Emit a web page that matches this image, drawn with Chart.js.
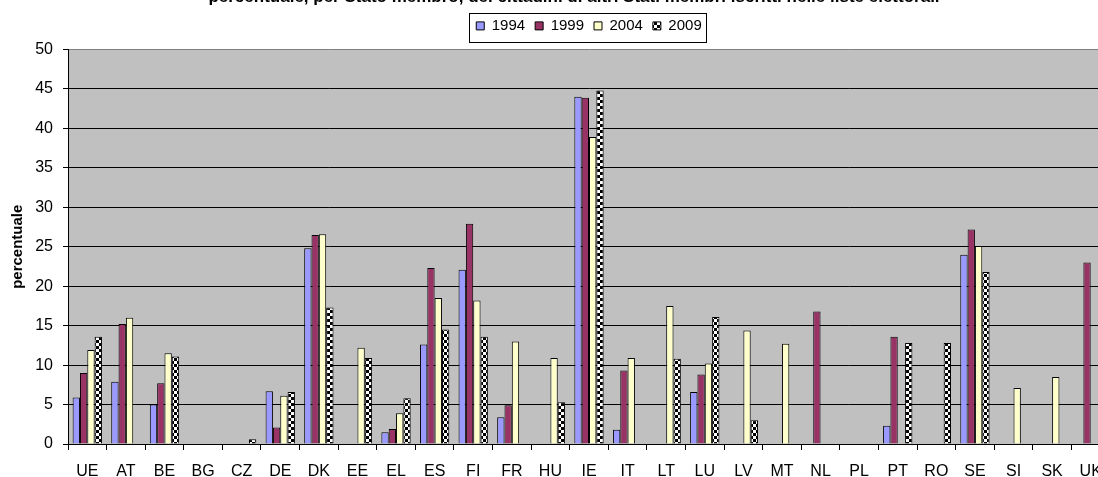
<!DOCTYPE html>
<html>
<head>
<meta charset="utf-8">
<script src="https://cdn.jsdelivr.net/npm/chart.js@4.4.0/dist/chart.umd.min.js"></script>
<style>
  html, body { margin: 0; padding: 0; background: #fff; overflow: hidden; width: 1098px; height: 477px; }
  #box { position: absolute; left: 0; top: -20px; width: 1148px; height: 497px; }
</style>
</head>
<body>
<div id="box"><canvas id="grafico" width="1148" height="497"></canvas></div>
<script>
// stati membri (asse x)
const paesi = ['UE','AT','BE','BG','CZ','DE','DK','EE','EL','ES','FI','FR','HU','IE','IT','LT','LU','LV','MT','NL','PL','PT','RO','SE','SI','SK','UK'];
const anni = ['1994', '1999', '2004', '2009'];

// percentuale per anno (null = nessun dato)
const v1994 = [5.9, 7.9, 5.0, null, null, 6.7, 24.8, null, 1.5, 12.6, 22.1, 3.4, null, 44.0, 1.8, null, 6.6, null, null, null, null, 2.3, null, 24.0, null, null, null];
const v1999 = [9.0, 15.2, 7.7, null, null, 2.1, 26.5, null, 1.9, 22.3, 27.9, 4.9, null, 43.9, 9.3, null, 8.8, null, null, 16.8, null, 13.6, null, 27.2, null, null, 23.0];
const v2004 = [11.9, 16.0, 11.5, null, null, 6.1, 26.6, 12.2, 3.9, 18.5, 18.2, 13.0, 10.9, 38.9, 10.9, 17.5, 10.2, 14.4, 12.7, null, null, null, null, 25.1, 7.1, 8.5, null];
const v2009 = [13.6, null, 11.1, null, 0.6, 6.6, 17.3, 10.9, 5.8, 14.5, 13.6, null, 5.3, 44.8, null, 10.8, 16.1, 3.0, null, null, null, 12.8, 12.8, 21.8, null, null, null];

const yMin = 0, yMax = 50, yPasso = 5;

const titolo = 'percentuale, per Stato membro, dei cittadini di altri Stati membri iscritti nelle liste elettorali';
const titoloY = 'percentuale';

// riempimento a scacchi per il 2009
function scacchiera() {
  const c = document.createElement('canvas');
  c.width = 6; c.height = 6;
  const g = c.getContext('2d');
  g.fillStyle = '#fff'; g.fillRect(0, 0, 6, 6);
  g.fillStyle = '#000'; g.fillRect(0, 0, 3, 3); g.fillRect(3, 3, 3, 3);
  return g.createPattern(c, 'repeat');
}

const sfondoArea = {
  id: 'sfondoArea',
  beforeDraw(chart) {
    const a = chart.chartArea, ctx = chart.ctx;
    ctx.save();
    ctx.fillStyle = '#c0c0c0';
    ctx.fillRect(a.left, a.top, a.right - a.left, a.bottom - a.top);
    ctx.restore();
  }
};

// cornice della legenda
const cornice = {
  id: 'cornice',
  afterDraw(chart) {
    const hb = chart.legend.legendHitBoxes;
    if (!hb || !hb.length) return;
    const x0 = Math.min(...hb.map(h => h.left)) - 7;
    const x1 = Math.max(...hb.map(h => h.left + h.width)) + 5;
    const mid = hb[0].top + hb[0].height / 2;
    const ctx = chart.ctx;
    ctx.save();
    ctx.strokeStyle = '#000';
    ctx.lineWidth = 1;
    ctx.strokeRect(Math.round(x0) + 0.5, Math.round(mid - 13) + 0.5, Math.round(x1 - x0), 29);
    ctx.restore();
  }
};

const serie = [v1994, v1999, v2004, v2009];
const colori = ['#9999ff', '#993366', '#ffffcc', scacchiera()];

const ctx = document.getElementById('grafico').getContext('2d');
new Chart(ctx, {
  type: 'bar',
  data: {
    labels: paesi,
    datasets: anni.map((anno, i) => ({
      label: anno,
      data: serie[i],
      backgroundColor: colori[i],
      borderColor: '#000',
      borderWidth: 1,
      categoryPercentage: 0.76,
      barPercentage: 1.0
    }))
  },
  options: {
    responsive: false,
    animation: false,
    layout: { padding: 0 },
    plugins: {
      title: {
        display: true,
        text: titolo,
        color: '#000',
        font: { family: 'Arial, "Liberation Sans"', size: 17, weight: 'bold' },
        padding: { top: 7.3, bottom: 0.7 }
      },
      subtitle: {
        display: true,
        text: '',
        weight: 500,
        fullSize: false,
        font: { size: 1 },
        padding: { top: 4.9, bottom: 0 }
      },
      legend: {
        position: 'top',
        fullSize: false,
        labels: {
          color: '#000',
          font: { family: 'Arial, "Liberation Sans"', size: 15 },
          boxWidth: 8,
          boxHeight: 8,
          padding: 10
        }
      },
      tooltip: { enabled: false }
    },
    scales: {
      x: {
        offset: true,
        grid: { display: true, drawOnChartArea: false, drawTicks: true, tickLength: 6, color: '#000', offset: true },
        border: { display: true, color: '#000' },
        ticks: {
          color: '#000',
          font: { family: 'Arial, "Liberation Sans"', size: 16 },
          autoSkip: false, maxRotation: 0, padding: 12
        },
        afterFit: s => { s.height = 33; }
      },
      y: {
        min: yMin,
        max: yMax,
        ticks: {
          stepSize: yPasso,
          color: '#000',
          font: { family: 'Arial, "Liberation Sans"', size: 16 },
          padding: 10
        },
        grid: {
          color: c => (c.tick && c.tick.value === yMax) ? '#808080' : '#000',
          tickColor: '#000',
          tickLength: 5
        },
        border: { display: true, color: '#000' },
        title: {
          display: true,
          text: titoloY,
          color: '#000',
          font: { family: 'Arial, "Liberation Sans"', size: 15, weight: 'bold' },
          padding: { top: 8.5, bottom: 0 }
        },
        afterFit: s => { s.width = 68; }
      },
      destra: {
        type: 'linear',
        position: 'right',
        display: true,
        grid: { display: false },
        border: { display: false },
        ticks: { display: false },
        afterFit: s => { s.width = 38; }
      }
    }
  },
  plugins: [sfondoArea, cornice]
});
</script>
</body>
</html>
